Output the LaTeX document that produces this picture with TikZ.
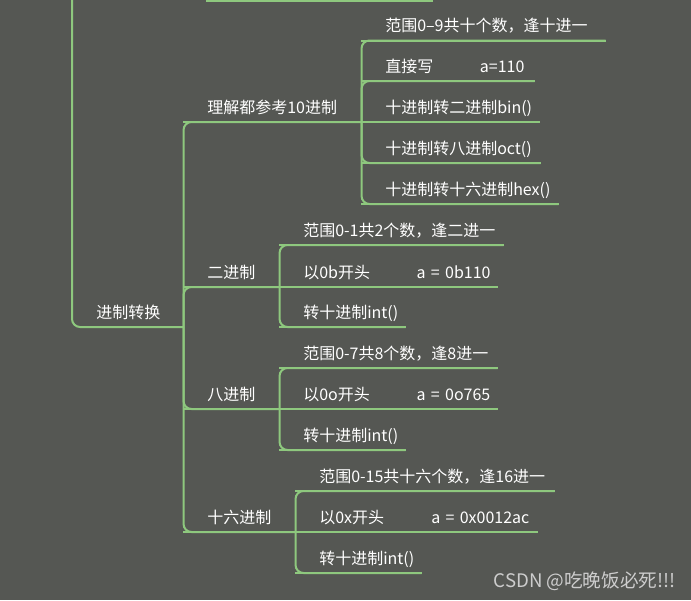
\documentclass[tikz,border=0pt]{standalone}
\usepackage{fontspec}
\setmainfont{Noto Sans CJK SC}
\definecolor{mapbg}{RGB}{85,87,83}
\definecolor{branchgreen}{RGB}{142,200,126}
\definecolor{wmgray}{RGB}{205,205,205}
\tikzset{
  branch/.style    = {line width=1.5pt, draw=branchgreen, rounded corners=6pt},
  topic/.style     = {anchor=south west, inner xsep=0pt, inner ysep=3.5pt, text=white,
                      font=\fontsize{12pt}{14pt}\selectfont, text width=#1*0.75pt,
                      align=left, text height=11pt, text depth=3pt,
                      execute at begin node={\hspace*{18pt}}},
  watermark/.style = {anchor=base east, inner sep=0pt, text=wmgray,
                      font=\fontsize{14pt}{16pt}\selectfont},
}

\begin{document}
\begin{tikzpicture}[x=0.75pt,y=-0.75pt]
  \fill[mapbg] (0,0) rectangle (691,600);
  \useasboundingbox (0,0) rectangle (691,600);
  \clip (0,0) rectangle (691,600);

  % root and first level
  \node[topic=111] (conv) at (72,327) {进制转换};
  \node[topic=178] (dec)  at (183,122) {理解都参考10进制};
  \node[topic=96]  (bin)  at (183,287) {二进制};
  \node[topic=96]  (oct)  at (183,409) {八进制};
  \node[topic=112] (hex)  at (183,532) {十六进制};

  % decimal
  \node[topic=244] (dec1) at (361,40.5) {范围0–9共十个数，逢十进一};
  \node[topic=173] (dec2) at (361,81)  {\makebox[71pt][l]{直接写}a=110};
  \node[topic=178] (dec3) at (361,122) {十进制转二进制bin()};
  \node[topic=179] (dec4) at (361,163) {十进制转八进制oct()};
  \node[topic=197] (dec5) at (361,204) {十进制转十六进制hex()};

  % binary
  \node[topic=224] (bin1) at (279,245) {范围0-1共2个数，逢二进一};
  \node[topic=218] (bin2) at (279,287) {\makebox[85pt][l]{以0b开头}a~=~0b110};
  \node[topic=126] (bin3) at (279,327) {转十进制int()};

  % octal
  \node[topic=218] (oct1) at (279,368) {范围0-7共8个数，逢8进一};
  \node[topic=218] (oct2) at (279,409) {\makebox[85pt][l]{以0o开头}a~=~0o765};
  \node[topic=126] (oct3) at (279,450) {转十进制int()};

  % hexadecimal
  \node[topic=259] (hex1) at (295,491) {范围0-15共十六个数，逢16进一};
  \node[topic=242] (hex2) at (295,532) {\makebox[84pt][l]{以0x开头}a~=~0x0012ac};
  \node[topic=126] (hex3) at (295,573) {转十进制int()};

  % clipped parts above
  \coordinate (top)   at (72,-10);
  \coordinate (prevA) at (206,0.5);
  \coordinate (prevB) at (433,0.5);
  \draw[branch] (prevA) -- (prevB);
  \draw[branch] (top) |- (conv.south east);

  \foreach \n in {dec,bin,oct,hex,dec1,dec2,dec3,dec4,dec5,
                  bin1,bin2,bin3,oct1,oct2,oct3,hex1,hex2,hex3}
    \draw[branch] (\n.south west) -- (\n.south east);

  \foreach \p/\c in {conv/dec,conv/bin,conv/oct,conv/hex,
                     dec/dec1,dec/dec2,dec/dec4,dec/dec5,
                     bin/bin1,bin/bin3,oct/oct1,oct/oct3,hex/hex1,hex/hex3}
    \draw[branch] (\p.south east) |- (\c.south east);

  \node[watermark] (wm) at (676,587) {CSDN @吃晚饭必死!!!};
\end{tikzpicture}
\end{document}
